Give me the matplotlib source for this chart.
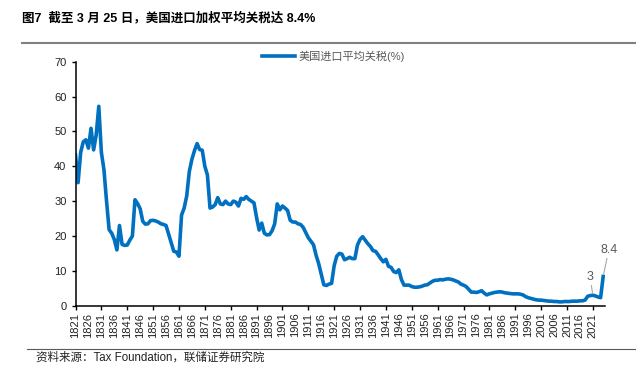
import matplotlib
matplotlib.use("Agg")
import matplotlib.pyplot as plt
from matplotlib.lines import Line2D
import numpy as np

plt.rcParams['font.family'] = ['Liberation Sans', 'Noto Sans CJK SC', 'DejaVu Sans']

# --- DATOS ---
years = np.arange(1821, 2026)
tariff = [
    43.2, 35.3, 44.0, 47.0, 47.6, 45.2, 50.9, 44.7, 49.0, 57.2,   # 1821-1830
    44.0, 39.0, 30.0, 21.8, 20.8, 19.0, 16.0, 23.0, 17.6, 17.3,   # 1831-1840
    17.4, 18.8, 20.0, 30.4, 29.3, 27.8, 24.2, 23.4, 23.5, 24.4,   # 1841-1850
    24.5, 24.3, 24.0, 23.5, 23.3, 23.0, 20.5, 18.0, 15.6, 15.4,   # 1851-1860
    14.2, 26.0, 28.0, 31.5, 38.5, 42.0, 44.5, 46.5, 44.8, 44.6,   # 1861-1870
    40.0, 37.5, 28.0, 28.3, 29.0, 31.0, 29.2, 29.0, 30.0, 29.2,   # 1871-1880
    29.0, 30.0, 29.7, 28.6, 30.8, 30.5, 31.3, 30.5, 30.0, 29.5,   # 1881-1890
    25.3, 21.7, 23.7, 20.8, 20.3, 20.4, 21.5, 23.5, 29.2, 27.5,   # 1891-1900
    28.6, 28.0, 27.3, 24.5, 24.0, 24.0, 23.5, 23.3, 22.5, 21.0,   # 1901-1910
    19.5, 18.5, 17.5, 14.5, 12.1, 9.0, 6.0, 5.8, 6.2, 6.4,        # 1911-1920
    11.5, 14.2, 15.0, 14.8, 13.2, 13.5, 13.9, 13.5, 13.5, 17.4,   # 1921-1930
    19.0, 19.8, 18.8, 17.8, 17.0, 15.8, 15.6, 14.6, 13.5, 12.6,   # 1931-1940
    13.3, 11.3, 11.0, 9.8, 9.5, 10.3, 7.5, 5.9, 5.9, 5.9,         # 1941-1950
    5.5, 5.3, 5.3, 5.4, 5.6, 5.9, 6.0, 6.5, 7.0, 7.3,             # 1951-1960
    7.3, 7.5, 7.4, 7.6, 7.7, 7.6, 7.4, 7.1, 6.8, 6.2,             # 1961-1970
    5.9, 5.5, 4.7, 3.9, 3.9, 3.8, 4.0, 4.3, 3.6, 3.1,             # 1971-1980
    3.4, 3.6, 3.8, 3.9, 4.0, 3.9, 3.7, 3.6, 3.5, 3.4,             # 1981-1990
    3.4, 3.4, 3.3, 3.1, 2.6, 2.3, 2.1, 1.9, 1.7, 1.6,             # 1991-2000
    1.6, 1.5, 1.4, 1.3, 1.3, 1.2, 1.2, 1.1, 1.1, 1.2,             # 2001-2010
    1.2, 1.2, 1.3, 1.3, 1.3, 1.4, 1.4, 1.6, 2.7, 2.9,             # 2011-2020
    3.0, 2.8, 2.5, 2.3, 8.4,                                      # 2021-2025
]
label_years = [2021, 2025]
label_texts = ["3", "8.4"]

serie = "美国进口平均关税(%)"
titulo = "图7  截至 3 月 25 日，美国进口加权平均关税达 8.4%"
fuente = "资料来源：Tax Foundation，联储证券研究院"

# --- GRAFICO ---
fig = plt.figure(figsize=(6.36, 3.83), dpi=100)
ax = fig.add_axes([75.5/636, 1-305.7/383, 529.5/636, 244/383])

ax.plot(years, tariff, color='#0070C0', lw=2.6, solid_joinstyle='round',
        label=serie)

# etiquetas de datos
offsets = [(-2, 9), (4, 15)]
for yr, txt, off in zip(label_years, label_texts, offsets):
    val = tariff[list(years).index(yr)]
    ax.annotate(txt, xy=(yr, val), xytext=off, textcoords='offset points',
                ha='center', va='bottom', fontsize=9, color='#595959',
                arrowprops=dict(arrowstyle='-', color='#A6A6A6', lw=0.8,
                                shrinkA=0, shrinkB=2))

# --- EJES ---
ax.set_xlim(1821, 2025.7)
ax.set_ylim(0, 70)
ax.set_yticks(range(0, 71, 10))
ticks_x = list(range(1821, 2022, 5))
ax.set_xticks(ticks_x)
ax.set_xticklabels([str(t) for t in ticks_x], rotation=90)
for i, tk in enumerate(ax.xaxis.get_major_ticks()):
    if i % 2 == 1:
        tk.tick1line.set_visible(False)

for s in ['top', 'right']:
    ax.spines[s].set_visible(False)
for s in ['left', 'bottom']:
    ax.spines[s].set_linewidth(1.1)
    ax.spines[s].set_color('black')
ax.tick_params(axis='x', direction='out', length=3, width=1, pad=2,
               labelsize=8, colors='black')
ax.tick_params(axis='y', direction='out', length=3, width=1, pad=3.5,
               labelsize=8, colors='black')
for lab in ax.get_xticklabels() + ax.get_yticklabels():
    lab.set_color('#222222')

leg = ax.legend(loc='center left', bbox_to_anchor=(262/636, 1-56.5/383),
                bbox_transform=fig.transFigure, frameon=False, fontsize=8,
                handlelength=3.0, handletextpad=0.3, borderpad=0,
                borderaxespad=0)
for t in leg.get_texts():
    t.set_color('#595959')

# --- DETALLES ---
fig.text(22/636, 1-18/383, titulo, fontsize=9, fontweight='bold',
         ha='left', va='center', color='black')
fig.add_artist(Line2D([22/636, 1], [1-42.5/383, 1-42.5/383],
                      transform=fig.transFigure, color='#808080', lw=1.5))
fig.add_artist(Line2D([27/636, 1], [1-349/383, 1-349/383],
                      transform=fig.transFigure, color='#595959', lw=0.8))
fig.text(36/636, 1-358/383, fuente, fontsize=8.3, ha='left', va='center',
         color='#222222')

fig.savefig('out.png', dpi=100)
